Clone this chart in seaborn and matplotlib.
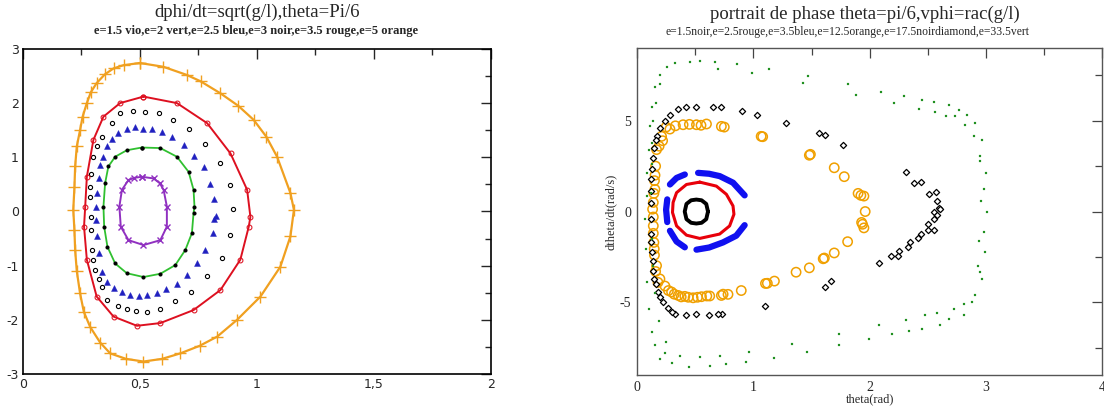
import numpy as np
import pandas as pd
import matplotlib
matplotlib.use("Agg")
import matplotlib.pyplot as plt
from matplotlib.ticker import MultipleLocator, FuncFormatter
import seaborn as sns

sns.set_style("white")
plt.rcParams['font.family'] = ['DejaVu Sans']
plt.rcParams['axes.unicode_minus'] = False

# ---------------- left chart: dphi/dt=sqrt(g/l), theta=Pi/6 ----------------
# e=5 orange (+ markers)
e5_x = [0.50, 0.60, 0.70, 0.76, 0.844, 0.92, 0.986, 1.04, 1.086, 1.143, 1.158, 1.143, 1.10, 1.015,
        0.915, 0.83, 0.755, 0.672, 0.595, 0.515, 0.44, 0.373, 0.33, 0.287, 0.26, 0.244, 0.23, 0.223,
        0.22, 0.215, 0.22, 0.223, 0.23, 0.244, 0.255, 0.273, 0.29, 0.315, 0.35, 0.387, 0.43, 0.50]
e5_y = [2.74, 2.67, 2.52, 2.40, 2.18, 1.95, 1.69, 1.38, 1.01, 0.34, 0.03, -0.46, -1.02, -1.57,
        -2.0, -2.31, -2.48, -2.62, -2.72, -2.77, -2.72, -2.62, -2.42, -2.13, -1.85, -1.51, -1.1, -0.71,
        -0.35, 0.03, 0.45, 0.83, 1.2, 1.50, 1.75, 2.0, 2.2, 2.37, 2.53, 2.64, 2.70, 2.74]
# e=3.5 red
e35_x = [0.515, 0.658, 0.787, 0.887, 0.958, 0.972, 0.965, 0.929, 0.844, 0.729, 0.587, 0.487, 0.387,
         0.315, 0.273, 0.261, 0.266, 0.273, 0.301, 0.344, 0.415, 0.515]
e35_y = [2.12, 2.0, 1.63, 1.07, 0.40, -0.10, -0.28, -0.89, -1.45, -1.82, -2.06, -2.11, -1.94,
         -1.57, -0.89, -0.28, 0.09, 0.64, 1.32, 1.75, 2.0, 2.12]
# e=3 black (dots)
e3_x = [0.472, 0.522, 0.58, 0.643, 0.708, 0.779, 0.841, 0.884, 0.898, 0.415, 0.38, 0.337, 0.315, 0.301,
        0.29, 0.287, 0.287, 0.29, 0.886, 0.851, 0.787, 0.72, 0.651, 0.587, 0.532, 0.484, 0.444, 0.408,
        0.361, 0.337, 0.323, 0.308, 0.301, 0.294, 0.291]
e3_y = [1.85, 1.84, 1.81, 1.69, 1.52, 1.25, 0.90, 0.49, 0.04, 1.81, 1.64, 1.38, 1.20, 1.01,
        0.70, 0.46, 0.27, -0.10, -0.43, -0.85, -1.20, -1.48, -1.66, -1.80, -1.85, -1.84, -1.80, -1.74,
        -1.63, -1.40, -1.25, -1.08, -0.89, -0.71, -0.34]
# e=2.5 blue (triangles)
e25_x = [0.48, 0.515, 0.551, 0.594, 0.637, 0.687, 0.729, 0.772, 0.80, 0.818, 0.827, 0.444, 0.408, 0.38,
         0.358, 0.341, 0.33, 0.323, 0.315, 0.313, 0.313, 0.315, 0.323, 0.337, 0.358, 0.387, 0.423, 0.458,
         0.494, 0.532, 0.572, 0.612, 0.658, 0.701, 0.744, 0.779, 0.812, 0.818]
e25_y = [1.55, 1.53, 1.53, 1.47, 1.37, 1.23, 1.02, 0.82, 0.51, 0.23, -0.08, 1.52, 1.44, 1.33,
         1.20, 1.01, 0.86, 0.61, 0.34, 0.09, -0.16, -0.46, -0.77, -1.11, -1.30, -1.42, -1.48, -1.54,
         -1.56, -1.55, -1.50, -1.44, -1.33, -1.17, -0.96, -0.71, -0.40, -0.13]
# e=2 green
e2_x = [0.508, 0.587, 0.658, 0.708, 0.729, 0.733, 0.729, 0.722, 0.694, 0.651, 0.587, 0.515, 0.444,
        0.394, 0.361, 0.347, 0.344, 0.351, 0.365, 0.394, 0.444, 0.508]
e2_y = [1.18, 1.17, 1.01, 0.73, 0.40, 0.09, -0.03, -0.40, -0.71, -0.99, -1.15, -1.21, -1.14,
        -0.96, -0.65, -0.28, 0.09, 0.52, 0.83, 1.01, 1.13, 1.18]
# e=1.5 violet
e15_x = [0.508, 0.558, 0.585, 0.601, 0.615, 0.615, 0.587, 0.515, 0.451, 0.418, 0.412, 0.423, 0.451, 0.475, 0.508]
e15_y = [0.64, 0.61, 0.52, 0.40, 0.09, -0.28, -0.53, -0.62, -0.53, -0.28, 0.09, 0.40, 0.58, 0.62, 0.64]

# ---------------- right chart: portrait de phase ----------------
# e=1.5 black ring
r15_x = [0.61, 0.595, 0.555, 0.51, 0.465, 0.425, 0.41, 0.425, 0.465, 0.51, 0.555, 0.595, 0.61]
r15_y = [0.0, 0.42, 0.62, 0.66, 0.62, 0.42, 0.0, -0.42, -0.62, -0.66, -0.62, -0.42, 0.0]
# e=2.5 red
r25_x = [0.539, 0.682, 0.768, 0.825, 0.833, 0.796, 0.71, 0.539, 0.425, 0.34, 0.305, 0.31, 0.34, 0.425, 0.539]
r25_y = [1.62, 1.40, 0.95, 0.31, -0.15, -0.79, -1.24, -1.48, -1.30, -0.79, -0.05, 0.5, 1.04, 1.49, 1.62]
# e=3.5 blue arcs
r35_x = [0.525, 0.62, 0.711, 0.825, 0.925, 0.283, 0.34, 0.411, 0.26, 0.25, 0.26,
         0.283, 0.34, 0.411, 0.511, 0.62, 0.739, 0.853, 0.925]
r35_y = [2.13, 2.08, 1.95, 1.59, 0.89, 1.49, 1.85, 2.04, 0.67, 0.1, -0.58,
         -1.06, -1.65, -1.97, -2.1, -1.98, -1.70, -1.33, -0.75]
r35_arc = [1, 1, 1, 1, 1, 2, 2, 2, 3, 3, 3, 4, 4, 4, 5, 5, 5, 5, 5]
# e=12.5 orange circles
r125_x = [0.168, 0.211, 0.25, 0.283, 0.33, 0.396, 0.45, 0.511, 0.55, 0.597, 0.725, 0.75, 1.067, 1.08,
          1.481, 1.49, 1.695, 1.781, 1.9, 1.924, 1.95, 1.961, 1.938, 1.93, 1.95, 1.81, 1.695, 1.61,
          1.6, 1.481, 1.367, 1.181, 1.12, 1.104, 0.896, 0.782, 0.74, 0.725, 0.625, 0.6, 0.554, 0.52,
          0.482, 0.44, 0.411, 0.38, 0.354, 0.32, 0.297, 0.27, 0.24, 0.197, 0.18, 0.168, 0.16, 0.148,
          0.15, 0.145, 0.14, 0.14, 0.14, 0.14, 0.134, 0.145, 0.15, 0.154, 0.155, 0.16, 0.19, 0.22]
r125_y = [3.41, 4.14, 4.65, 4.54, 4.72, 4.78, 4.80, 4.78, 4.75, 4.82, 4.69, 4.65, 4.14, 4.12,
          3.10, 3.15, 2.41, 1.92, 1.0, 0.89, 0.85, 0.0, -0.70, -0.6, -0.9, -1.66, -2.28, -2.56,
          -2.6, -3.10, -3.34, -3.83, -3.95, -3.96, -4.35, -4.56, -4.55, -4.62, -4.65, -4.65, -4.69, -4.72,
          -4.75, -4.72, -4.67, -4.7, -4.62, -4.55, -4.43, -4.35, -4.1, -3.71, -3.9, -2.98, -3.3, -2.06,
          -2.4, -1.7, -1.2, -0.79, -0.3, 0.5, 0.13, 1.0, 1.7, 1.22, 2.0, 2.5, 3.6, 3.9]
# e=17.5 black diamonds
r175_x = [0.168, 0.197, 0.24, 0.283, 0.354, 0.425, 0.511, 0.653, 0.725, 0.902, 1.03, 1.282, 1.561,
          1.612, 1.767, 2.309, 2.38, 2.437, 2.509, 2.566, 2.58, 2.594, 2.608, 2.549, 2.58, 2.549, 2.5,
          2.549, 2.5, 2.437, 2.417, 2.35, 2.332, 2.252, 2.246, 2.181, 2.081, 1.618, 1.666, 1.102, 0.733,
          0.696, 0.619, 0.511, 0.42, 0.326, 0.297, 0.268, 0.22, 0.197, 0.183, 0.163, 0.146, 0.14, 0.134,
          0.125, 0.119, 0.116, 0.116, 0.116, 0.119, 0.125, 0.134, 0.146, 0.16, 0.116]
r175_y = [4.14, 4.6, 4.96, 5.33, 5.65, 5.73, 5.75, 5.75, 5.73, 5.54, 5.29, 4.87, 4.32,
          4.23, 3.68, 2.17, 1.59, 1.62, 0.99, 1.07, 0.58, 0.22, 0.16, -0.05, -0.19, -0.42, -0.70,
          -1.01, -1.01, -1.24, -1.46, -1.70, -1.97, -2.19, -2.46, -2.43, -2.83, -4.16, -3.85, -5.2, -5.62,
          -5.62, -5.68, -5.62, -5.71, -5.62, -5.53, -5.31, -4.98, -4.71, -4.43, -3.98, -3.71, -3.25, -2.70,
          -2.25, -1.70, -1.24, -0.42, 1.13, 1.77, 2.32, 2.96, 3.5, 3.96, 0.49]
# e=33.5 green squares
r335_x = [0.083, 0.088, 0.1, 0.111, 0.125, 0.154, 0.197, 0.254, 0.325, 0.454, 0.539, 0.668, 0.696,
          0.856, 0.985, 1.131, 1.424, 1.467, 1.815, 1.881, 2.095, 2.209, 2.295, 2.423, 2.446, 2.551,
          2.56, 2.652, 2.68, 2.765, 2.737, 2.836, 2.822, 2.907, 2.893, 2.964, 2.95, 2.998, 2.979, 3.007,
          2.979, 2.993, 2.95, 2.964, 2.907, 2.879, 2.808, 2.808, 2.68, 2.723, 2.58, 2.608, 2.474, 2.451,
          2.337, 2.309, 2.189, 2.081, 1.995, 1.738, 1.738, 1.458, 1.33, 1.176, 0.962, 0.94, 0.762, 0.71,
          0.625, 0.539, 0.448, 0.368, 0.297, 0.24, 0.197, 0.154, 0.125, 0.105, 0.088, 0.077, 0.071,
          0.12, 0.125, 0.13, 0.14, 0.16, 0.2, 0.13, 0.14, 0.155, 0.19, 0.25, 2.95, 2.96, 2.94, 2.93]
r335_y = [0.85, 2.13, 3.41, 4.69, 5.78, 6.87, 7.51, 7.97, 8.16, 8.24, 8.28, 8.24, 7.83,
          8.12, 7.61, 7.86, 7.09, 7.46, 7.0, 6.42, 6.6, 5.97, 6.37, 5.65, 6.14, 6.02,
          5.47, 5.27, 5.87, 5.6, 5.28, 5.33, 4.78, 4.87, 4.14, 3.96, 3.04, 2.13, 1.22, -0.05,
          -1.15, -2.24, -3.34, -3.71, -4.62, -4.98, -5.07, -5.71, -5.9, -5.35, -5.57, -6.22, -5.71, -6.44,
          -6.59, -5.95, -6.77, -6.26, -7.04, -7.36, -6.77, -7.76, -7.32, -8.08, -7.76, -8.3, -8.41, -7.94,
          -8.49, -8.01, -8.54, -7.94, -8.36, -7.81, -8.12, -7.36, -6.62, -5.35, -3.89, -2.06, -0.42,
          1.0, 2.6, 3.8, 5.0, 6.0, 7.0, -1.5, -3.0, -4.5, -6.0, -7.2, 2.8, 0.6, -1.6, -3.0]

fig = plt.figure(figsize=(11.04, 4.11), dpi=100)
ax1 = fig.add_axes([0.0208, 0.090, 0.4239, 0.791])
ax2 = fig.add_axes([0.577, 0.0876, 0.4216, 0.7954])

# left chart
sns.lineplot(x=e5_x, y=e5_y, sort=False, estimator=None, color="#f0a020", lw=1.6,
             marker="+", markersize=9, markeredgewidth=1.0, markeredgecolor="#f0a020", ax=ax1)
sns.lineplot(x=e35_x, y=e35_y, sort=False, estimator=None, color="#dd1020", lw=1.4,
             marker="o", markersize=3.5, markerfacecolor="none", markeredgecolor="#dd1020", ax=ax1)
sns.scatterplot(x=e3_x, y=e3_y, marker="o", s=9, facecolor="white", edgecolor="black", linewidth=0.8, ax=ax1)
sns.scatterplot(x=e25_x, y=e25_y, marker="^", s=18, color="#2020c0", edgecolor="#2020c0", ax=ax1)
sns.lineplot(x=e2_x, y=e2_y, sort=False, estimator=None, color="#30c030", lw=1.3,
             marker="o", markersize=2.2, markerfacecolor="black", markeredgecolor="black", ax=ax1)
sns.lineplot(x=e15_x, y=e15_y, sort=False, estimator=None, color="#9030c0", lw=1.4,
             marker="x", markersize=5, markeredgewidth=1.0, markeredgecolor="#9030c0", ax=ax1)

ax1.set_xlim(0, 2)
ax1.set_ylim(-3, 3)
ax1.xaxis.set_major_locator(MultipleLocator(0.5))
ax1.xaxis.set_minor_locator(MultipleLocator(0.25))
ax1.yaxis.set_major_locator(MultipleLocator(1))
ax1.yaxis.set_minor_locator(MultipleLocator(0.5))
ax1.xaxis.set_major_formatter(FuncFormatter(lambda v, p: ("%g" % v).replace(".", ",")))
ax1.tick_params(which="both", direction="in", top=True, right=True, labelsize=9, pad=3, width=1.0)
ax1.tick_params(which="major", length=7)
ax1.tick_params(which="minor", length=4)
for s in ax1.spines.values():
    s.set_linewidth(1.2)
    s.set_color("black")

# right chart
sns.lineplot(x=r15_x, y=r15_y, sort=False, estimator=None, color="black", lw=2.8, ax=ax2)
sns.lineplot(x=r25_x, y=r25_y, sort=False, estimator=None, color="#e8000a", lw=2.2, ax=ax2)
blue = pd.DataFrame({"x": r35_x, "y": r35_y, "arc": r35_arc})
sns.lineplot(data=blue, x="x", y="y", units="arc", sort=False, estimator=None, color="#1010f0",
             lw=4.5, solid_capstyle="round", ax=ax2)
sns.scatterplot(x=r125_x, y=r125_y, marker="o", s=45, facecolor="none", edgecolor="#f0a000", linewidth=1.1, ax=ax2)
sns.scatterplot(x=r175_x, y=r175_y, marker="D", s=10, facecolor="white", edgecolor="black", linewidth=0.9, ax=ax2)
sns.scatterplot(x=r335_x, y=r335_y, marker="s", s=3, color="#209020", edgecolor="#209020", ax=ax2)

ax2.set_xlim(0, 4)
ax2.set_ylim(-9, 9)
ax2.xaxis.set_major_locator(MultipleLocator(1))
ax2.xaxis.set_minor_locator(MultipleLocator(0.5))
ax2.yaxis.set_major_locator(MultipleLocator(5))
ax2.yaxis.set_minor_locator(MultipleLocator(2.5))
ax2.tick_params(which="both", direction="in", top=True, right=True, labelsize=10, pad=4, width=0.9, color="#444444")
ax2.tick_params(which="major", length=7)
ax2.tick_params(which="minor", length=5)
for lab in ax2.get_xticklabels() + ax2.get_yticklabels():
    lab.set_family("Liberation Serif")
ax2.set_xlabel("theta(rad)", family="Liberation Serif", fontsize=9, labelpad=0)
ax2.set_ylabel("dtheta/dt(rad/s)", family="Liberation Serif", fontsize=9, labelpad=2)
for s in ax2.spines.values():
    s.set_linewidth(1.0)
    s.set_color("#555555")

fig.text(257 / 1104, 1 - 12 / 411, "dphi/dt=sqrt(g/l),theta=Pi/6", family="Liberation Serif",
         fontsize=13.5, ha="center", va="center")
fig.text(256 / 1104, 1 - 31 / 411, "e=1.5 vio,e=2 vert,e=2.5 bleu,e=3 noir,e=3.5 rouge,e=5 orange",
         family="Liberation Serif", fontsize=9, fontweight="bold", ha="center", va="center")
fig.text(865 / 1104, 1 - 14 / 411, "portrait de phase theta=pi/6,vphi=rac(g/l)", family="Liberation Serif",
         fontsize=13.5, ha="center", va="center")
fig.text(847 / 1104, 1 - 32 / 411, "e=1.5noir,e=2.5rouge,e=3.5bleu,e=12.5orange,e=17.5noirdiamond,e=33.5vert",
         family="Liberation Serif", fontsize=8.4, ha="center", va="center")

fig.savefig("out.png", dpi=100)
